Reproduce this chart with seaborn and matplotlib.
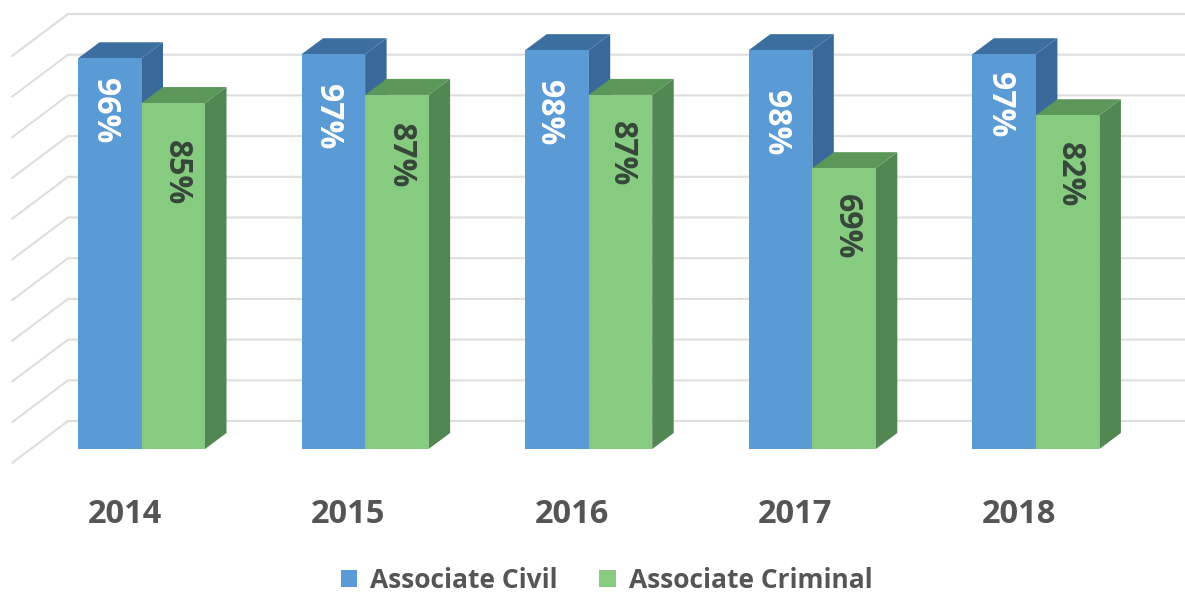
import matplotlib
matplotlib.use("Agg")
import matplotlib.pyplot as plt
import matplotlib.transforms as mtrans
import pandas as pd
import seaborn as sns
from matplotlib.patches import Polygon

years = ["2014", "2015", "2016", "2017", "2018"]
civil = [96, 97, 98, 98, 97]
criminal = [85, 87, 87, 69, 82]
series_names = ["Associate Civil", "Associate Criminal"]
grid_values = list(range(0, 101, 10))

# layout helpers, in pixels of the 1185x595 canvas
W, H = 1185, 595
BASE_PX = 449
PX_PER_UNIT = 4.07
GROUP_PX = 223.6
FIRST_CENTER_PX = 141.5
DEPTH_X, DEPTH_Y = 21.5, 16
label_drop_px = [[20, 29.3, 29.4, 39.4, 17.3], [36.5, 28.5, 26.5, 25.5, 26.5]]
label_shift_px = [[-5.5, -5.5, -8.5, -5.5, -4.5], [3, 3.5, 0.5, 2.5, 2]]
FRONT = ["#5B9BD5", "#86CB7F"]
SIDE = ["#38699A", "#528652"]
TOP = ["#3C6F9F", "#5C975A"]
TEXT = "#555555"
LABEL = ["#FFFFFF", "#37473A"]
FAMILY = ["Open Sans", "DejaVu Sans"]

sns.set_theme(style="white")
plt.rcParams["font.family"] = FAMILY

df = pd.DataFrame({
    "year": years * 2,
    "value": civil + criminal,
    "series": [series_names[0]] * len(years) + [series_names[1]] * len(years),
})

fig = plt.figure(figsize=(W / 100, H / 100), dpi=100, facecolor="white")
ax = fig.add_axes([0, (H - BASE_PX) / H, 1, BASE_PX / H])

sns.barplot(data=df, x="year", y="value", hue="series", order=years,
            hue_order=series_names, palette=dict(zip(series_names, FRONT)),
            width=0.568, gap=0, saturation=1, linewidth=0, ax=ax, zorder=5)

ax.set_xlim(-FIRST_CENTER_PX / GROUP_PX, (W - FIRST_CENTER_PX) / GROUP_PX)
ax.set_ylim(0, BASE_PX / PX_PER_UNIT)
ax.set_xlabel("")
ax.set_ylabel("")
ax.set_yticks([])
ax.patch.set_alpha(0)
for s in ax.spines.values():
    s.set_visible(False)
ax.tick_params(axis="x", length=0, pad=35)
shift = mtrans.ScaledTranslation(-17 / 100, 0, fig.dpi_scale_trans)
for t in ax.get_xticklabels():
    t.set_fontsize(23.5)
    t.set_fontweight("bold")
    t.set_color(TEXT)
    t.set_transform(t.get_transform() + shift)

dx = DEPTH_X / GROUP_PX
dy = DEPTH_Y / PX_PER_UNIT

# gridlines on the back wall, with the receding floor/wall edge at the left
gx0 = (68 - FIRST_CENTER_PX) / GROUP_PX
gx1 = (12 - FIRST_CENTER_PX) / GROUP_PX
g_back = 28 / PX_PER_UNIT
g_front = -14 / PX_PER_UNIT
xmax = ax.get_xlim()[1]
for v in grid_values:
    ax.plot([gx1, gx0, xmax], [v + g_front, v + g_back, v + g_back],
            color="#DEDEDE", lw=1.5, clip_on=False, zorder=1, solid_joinstyle="miter")

# extruded side and top faces + rotated labels
for i, container in enumerate(ax.containers):
    for j, bar in enumerate(container):
        x0, x1 = bar.get_x(), bar.get_x() + bar.get_width()
        h = bar.get_height()
        z = 2 + i
        ax.add_patch(Polygon([(x1, 0), (x1 + dx, dy), (x1 + dx, h + dy), (x1, h)],
                             closed=True, fc=SIDE[i], ec="none", zorder=z))
        ax.add_patch(Polygon([(x0, h), (x0 + dx, h + dy), (x1 + dx, h + dy), (x1, h)],
                             closed=True, fc=TOP[i], ec="none", zorder=z))
        bar.set_zorder(5)
        ax.annotate(f"{h:.0f}%", xy=((x0 + x1) / 2, h),
                    xytext=(label_shift_px[i][j] * 0.72, -label_drop_px[i][j] * 0.72),
                    textcoords="offset points", rotation=-90, ha="center", va="top",
                    fontsize=23, fontweight="bold", color=LABEL[i], zorder=6)

sns.move_legend(ax, loc="center", bbox_to_anchor=((342 + 871) / 2 / W, 1 - 580 / H),
                bbox_transform=fig.transFigure, ncol=2, frameon=False, title=None,
                handlelength=0.62, handleheight=0.62, handletextpad=0.5,
                columnspacing=1.57, prop={"size": 19, "weight": "bold"}, labelcolor=TEXT)

fig.savefig("out.png", dpi=100, facecolor="white")
